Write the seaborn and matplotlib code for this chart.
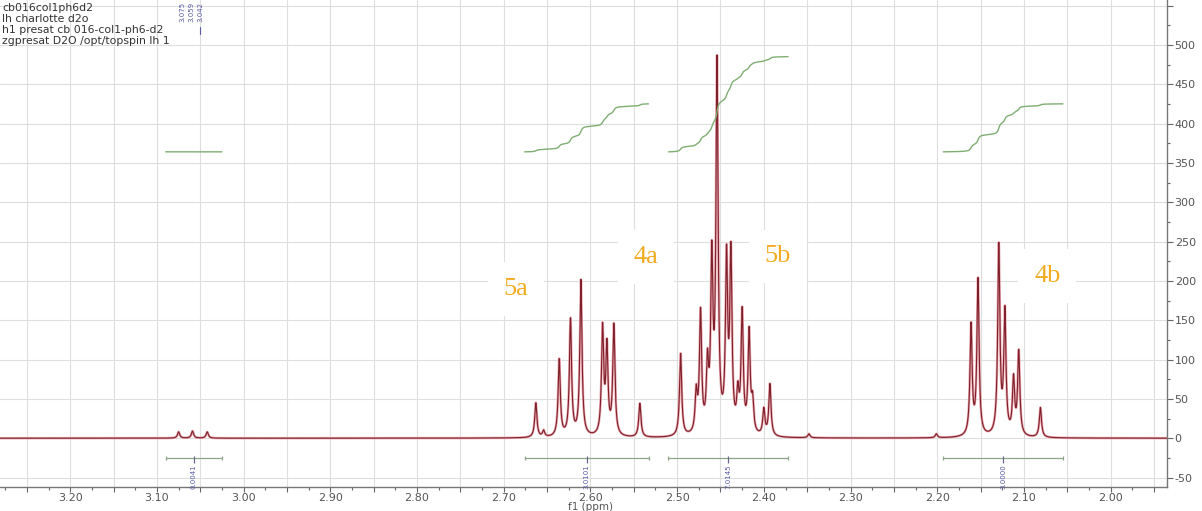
import numpy as np
import pandas as pd
import matplotlib
matplotlib.use("Agg")
import matplotlib.pyplot as plt
import seaborn as sns
from matplotlib.ticker import MultipleLocator, FuncFormatter

# ---------------- data ----------------
peak_ppm = [3.075, 3.059, 3.042,
            2.663, 2.654, 2.636, 2.623, 2.611, 2.586, 2.581, 2.573, 2.543,
            2.496, 2.478, 2.473, 2.465, 2.460, 2.454, 2.443, 2.438, 2.430,
            2.425, 2.417, 2.413, 2.400, 2.393, 2.348,
            2.201, 2.161, 2.153, 2.129, 2.122, 2.112, 2.106, 2.081]
peak_height = [8, 9, 8,
               44, 8, 98, 148, 198, 135, 110, 140, 43,
               105, 50, 152, 80, 212, 465, 215, 222, 45,
               152, 128, 38, 33, 66, 5,
               5, 140, 198, 240, 155, 70, 106, 38]
peak_halfwidth = 0.0015

integral_start = [3.090, 2.676, 2.510, 2.193]
integral_end = [3.025, 2.533, 2.372, 2.055]
integral_base = [364, 364, 364, 364]
integral_top = [364, 425, 485, 425]
integral_labels = ["0.0041", "3.0101", "7.0145", "3.0000"]

group_labels = ["5a", "4a", "5b", "4b"]
group_label_ppm = [2.686, 2.536, 2.384, 2.073]
group_label_y = [190, 230, 231, 206]

pick_labels = ["3.075", "3.059", "3.042"]

header_lines = ["cb016col1ph6d2", "lh charlotte d2o",
                "h1 presat cb 016-col1-ph6-d2", "zgpresat D2O /opt/topspin lh 1"]

# ---------------- figure ----------------
sns.set_theme(style="whitegrid")
plt.rcParams['font.family'] = ['DejaVu Sans']

W, H = 1202, 511
fig = plt.figure(figsize=(W / 100, H / 100), dpi=100)
ax = fig.add_axes([0, 1 - 487 / H, 1167 / W, 487 / H])

ppm = np.linspace(3.30, 1.92, 30000)
spec = np.zeros_like(ppm)
for p, h in zip(peak_ppm, peak_height):
    spec += h * peak_halfwidth ** 2 / ((ppm - p) ** 2 + peak_halfwidth ** 2)
df = pd.DataFrame({"ppm": ppm, "intensity": spec})

sns.lineplot(data=df, x="ppm", y="intensity", ax=ax, color="#e9a9b0",
             lw=1.8, estimator=None, sort=False, zorder=3)
sns.lineplot(data=df, x="ppm", y="intensity", ax=ax, color="#7e1f2a",
             lw=0.8, estimator=None, sort=False, zorder=4)

# integral curves
for s, e, b, t in zip(integral_start, integral_end, integral_base, integral_top):
    m = (ppm <= s) & (ppm >= e)
    xs = ppm[m]
    cs = np.cumsum(spec[m])
    ys = b + (t - b) * (cs / cs[-1] if t > b else 0 * cs)
    sns.lineplot(x=xs, y=ys, ax=ax, color="#7fae72", lw=1.0,
                 estimator=None, sort=False, zorder=5)

# integration bars and labels
bar_y = -25
for s, e, lab in zip(integral_start, integral_end, integral_labels):
    c = (s + e) / 2
    ax.hlines(bar_y, e, s, color="#8fa58a", lw=0.9, zorder=5)
    ax.vlines([s, e], bar_y - 2.5, bar_y + 2.5, color="#8fa58a", lw=0.9, zorder=5)
    ax.vlines(c, bar_y - 6, bar_y + 3, color="#6a6a8a", lw=0.9, zorder=5)
    ax.text(c, -33, lab, rotation=90, ha="center", va="top", fontsize=5,
            color="#5a5aa5", zorder=6)

# group labels
for lab, xp, yp in zip(group_labels, group_label_ppm, group_label_y):
    ax.text(xp, yp, lab, ha="center", va="center", fontsize=19,
            family="Liberation Serif", color="#f2ab1e", zorder=7,
            bbox=dict(boxstyle="square,pad=0.6", fc="white", ec="none"))

# axes styling
ax.set_xlim(3.281, 1.935)
ax.set_ylim(-62, 557)
ax.xaxis.set_major_locator(MultipleLocator(0.05))
ax.xaxis.set_minor_locator(MultipleLocator(0.025))
ax.xaxis.set_major_formatter(FuncFormatter(
    lambda v, _: f"{v:.2f}" if abs(round(v * 100)) % 10 == 0 else ""))
ax.yaxis.set_major_locator(MultipleLocator(50))
ax.yaxis.set_minor_locator(MultipleLocator(25))
ax.yaxis.set_major_formatter(FuncFormatter(
    lambda v, _: f"{v:.0f}" if v <= 500 else ""))
ax.yaxis.tick_right()
ax.grid(True, which="major", color="#dedede", lw=0.8)
ax.grid(False, which="minor")
ax.set_facecolor("white")
for sp in ["left", "top"]:
    ax.spines[sp].set_visible(False)
for sp in ["bottom", "right"]:
    ax.spines[sp].set_visible(True)
    ax.spines[sp].set_color("#777777")
    ax.spines[sp].set_linewidth(1.0)
ax.tick_params(axis="x", which="major", direction="out", length=3.5, width=0.8,
               color="#666666", labelsize=8.0, labelcolor="#555555", pad=0.5,
               bottom=True)
ax.tick_params(axis="x", which="minor", direction="out", length=2, width=0.8,
               color="#666666", bottom=True)
ax.tick_params(axis="y", which="major", direction="out", length=4, width=0.8,
               color="#666666", labelsize=8.0, labelcolor="#555555", pad=1.5,
               right=True, left=False)
ax.tick_params(axis="y", which="minor", direction="out", length=2, width=0.8,
               color="#666666", right=True, left=False)
ax.set_xlabel("f1 (ppm)", fontsize=7.5, color="#555555", va="center")
ax.xaxis.set_label_coords(590 / 1167, -(506.5 - 487) / 487)
ax.set_ylabel("")

# header text
for i, line in enumerate(header_lines):
    fig.text(2 / W, 1 - (8 + 11 * i) / H, line, ha="left", va="center",
             fontsize=7.8, color="#333333")
for i, lab in enumerate(pick_labels):
    fig.text((182 + 9 * i) / W, 1 - 2 / H, lab, rotation=90, ha="center",
             va="top", fontsize=5, color="#5a5aa5")
fig.add_artist(plt.Line2D([200 / W, 200 / W], [1 - 27 / H, 1 - 34 / H],
                          color="#5a5aa5", lw=0.8))

fig.savefig("out.png", dpi=100)
